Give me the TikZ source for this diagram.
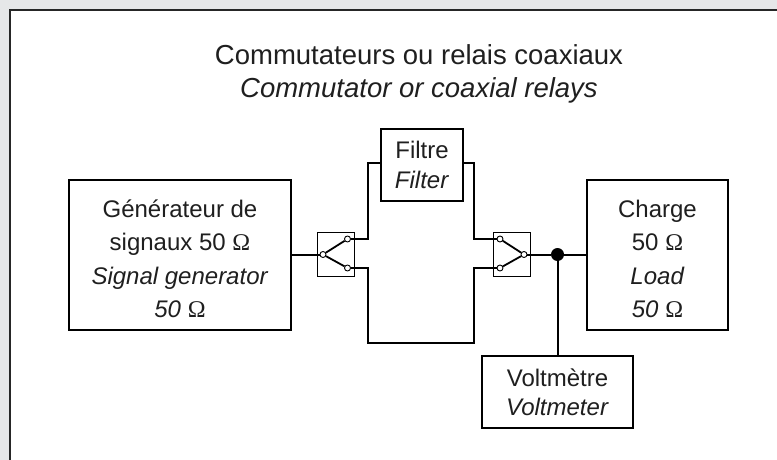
\documentclass[tikz,border=0pt]{standalone}
\usepackage{fontspec}
\setmainfont{Liberation Sans}
\newfontfamily\omegafont{Liberation Serif}
\usepackage{xcolor}
\usetikzlibrary{positioning}
\definecolor{pagegrey}{rgb}{0.902,0.906,0.91}
\definecolor{inktext}{rgb}{0.12,0.12,0.12}
\newcommand{\ohmsign}{{\omegafont\upshape\symbol{"03A9}}}
\newcommand{\toppad}{\rule{0pt}{26pt}}
\tikzset{
  boxnode/.style={draw=black,line width=2pt,fill=white,align=center,inner sep=0pt,text=inktext,font=\fontsize{24}{33.5}\selectfont},
  relaybox/.style={draw=black,line width=1pt,fill=white,minimum width=37pt,minimum height=44pt,inner sep=0pt},
  contact/.style={circle,draw=black,line width=0.9pt,fill=white,minimum size=6pt,inner sep=0pt},
  wire/.style={draw=black,line width=2pt},
  lever/.style={draw=black,line width=1.8pt},
  junction/.style={circle,fill=black,minimum size=13pt,inner sep=0pt},
  titlenode/.style={anchor=base,inner sep=0pt,text=inktext},
}
\begin{document}
\begin{tikzpicture}[x=1pt,y=1pt,yscale=-1,xscale=1]
\useasboundingbox (0,0) rectangle (777,460);
%Page and frame
\fill [pagegrey] (0,0) rectangle (777,460);
\fill [white] (10,10) rectangle (777,460);
\draw [line width=2pt,color=black!85] (10,460) -- (10,10) -- (777,10);

%Relay boxes
\node (relayleft) [relaybox] at (335.5,254.5) {};
\node (relayright) [relaybox] at (512,254.5) {};

%Contacts
\node (leftcom) [contact] at (323,254.5) {};
\node (leftup) [contact] at (347.5,239) {};
\node (leftlow) [contact] at (347.5,268) {};
\node (rightcom) [contact] at (524,254.5) {};
\node (rightup) [contact] at (500,239) {};
\node (rightlow) [contact] at (500,268) {};
\node (dot) [junction] at (557.5,254.5) {};

% Text Node
\node (titlefr) [titlenode,font=\fontsize{27.5}{33}\selectfont] at (419,65) {Commutateurs ou relais coaxiaux};
% Text Node
\node (titleen) [titlenode,font=\fontsize{27.5}{33}\selectfont\itshape] at (419,98) {Commutator or coaxial relays};
% Text Node
\node (gen) [boxnode,minimum width=222pt,minimum height=150pt] at (180,254.5) {\toppad G\'en\'erateur de\\signaux 50 \ohmsign\\\textit{Signal generator}\\\textit{50} \ohmsign};
% Text Node
\node (filtre) [boxnode,minimum width=82pt,minimum height=72pt,font=\fontsize{24}{30}\selectfont] at (422,165) {Filtre\\\textit{Filter}};
% Text Node
\node (charge) [boxnode,minimum width=141pt,minimum height=150pt] at (657.5,254.5) {\toppad Charge\\50 \ohmsign\\\textit{Load}\\\textit{50} \ohmsign};
% Text Node
\node (volt) [boxnode,minimum width=151pt,minimum height=72pt,font=\fontsize{24}{29}\selectfont] at (557.5,392) {Voltm\`etre\\\textit{Voltmeter}};

%Wire corners
\coordinate (lefttop) at (368,163);
\coordinate (leftbot) at (368,343);
\coordinate (righttop) at (474,163);
\coordinate (rightbot) at (474,343);

%Straight Lines
\draw [lever] (leftcom) -- (leftup);
\draw [lever] (leftcom) -- (leftlow);
\draw [lever] (rightcom) -- (rightup);
\draw [lever] (rightcom) -- (rightlow);
\draw [wire] (gen.east) -- (leftcom);
\draw [wire] (leftup) -| (lefttop) -- (lefttop -| filtre.west);
\draw [wire] (rightup) -| (righttop) -- (righttop -| filtre.east);
\draw [wire] (leftlow) -| (leftbot) -- (rightbot) |- (rightlow);
\draw [wire] (rightcom) -- (dot) -- (charge.west);
\draw [wire] (dot) -- (volt.north);

\end{tikzpicture}
\end{document}
